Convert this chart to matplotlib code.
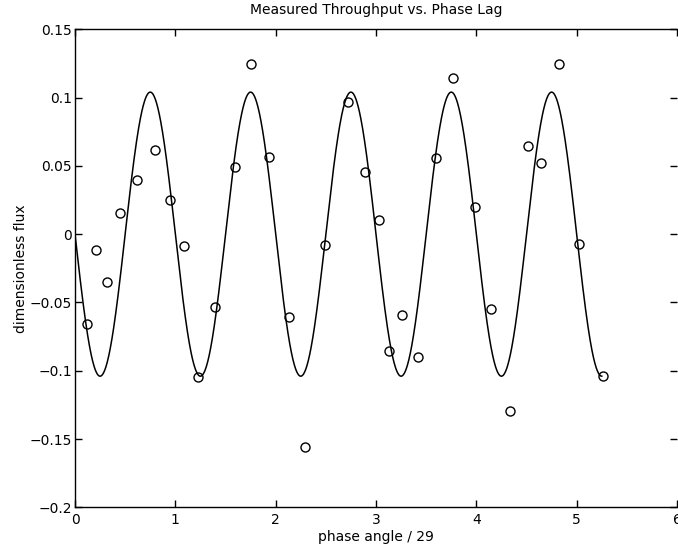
import numpy as np
import matplotlib
matplotlib.use("Agg")
import matplotlib.pyplot as plt

plt.rcParams['font.family'] = ['DejaVu Sans']

# measured points (phase angle / 29, dimensionless flux)
phase = [0.116, 0.21, 0.32, 0.45, 0.615, 0.80, 0.95, 1.088, 1.226, 1.40,
         1.59, 1.75, 1.937, 2.13, 2.293, 2.49, 2.725, 2.89, 3.025, 3.134,
         3.263, 3.417, 3.596, 3.77, 3.985, 4.151, 4.337, 4.513, 4.643, 4.82,
         5.025, 5.267]
flux = [-0.0657, -0.0115, -0.0347, 0.0154, 0.040, 0.0617, 0.0251, -0.0086,
        -0.1047, -0.0537, 0.0495, 0.1244, 0.0563, -0.0605, -0.1555, -0.008,
        0.0966, 0.0454, 0.010, -0.0854, -0.0593, -0.0903, 0.056, 0.1146,
        0.0202, -0.0549, -0.1294, 0.0646, 0.0524, 0.1244, -0.0073, -0.1035]

# fitted sine model
amp = 0.104
period = 1.0
x_end = 5.25

xticks = [0, 1, 2, 3, 4, 5, 6]
yticks = [-0.2, -0.15, -0.1, -0.05, 0, 0.05, 0.1, 0.15]
ylabels = ['\u22120.2', '\u22120.15', '\u22120.1', '\u22120.05', '0', '0.05', '0.1', '0.15']

fig = plt.figure(figsize=(6.78, 5.54), dpi=100)
ax = fig.add_axes([75/678, 46.7/554, 602/678, 478/554])

xs = np.linspace(0, x_end, 1500)
ax.plot(xs, -amp*np.sin(2*np.pi*xs/period), color='black', lw=1.1)
ax.plot(phase, flux, 'o', mfc='none', mec='black', ms=6.5, mew=1.0)

ax.set_xlim(0, 6)
ax.set_ylim(-0.2, 0.15)
ax.set_xticks(xticks)
ax.set_xticklabels([str(t) for t in xticks])
ax.set_yticks(yticks)
ax.set_yticklabels(ylabels)
ax.tick_params(direction='in', top=True, right=True, length=5, width=1,
               labelsize=10)
ax.tick_params(axis='x', pad=4)
ax.tick_params(axis='y', pad=2)
ax.spines['right'].set_visible(False)
for s in ['left', 'top', 'bottom']:
    ax.spines[s].set_linewidth(1)

ax.set_title('Measured Throughput vs. Phase Lag', fontsize=10, pad=11)
ax.set_xlabel('phase angle / 29', fontsize=10, labelpad=2)
ax.set_ylabel('dimensionless flux', fontsize=10, labelpad=1)

fig.savefig('out.png', dpi=100)
